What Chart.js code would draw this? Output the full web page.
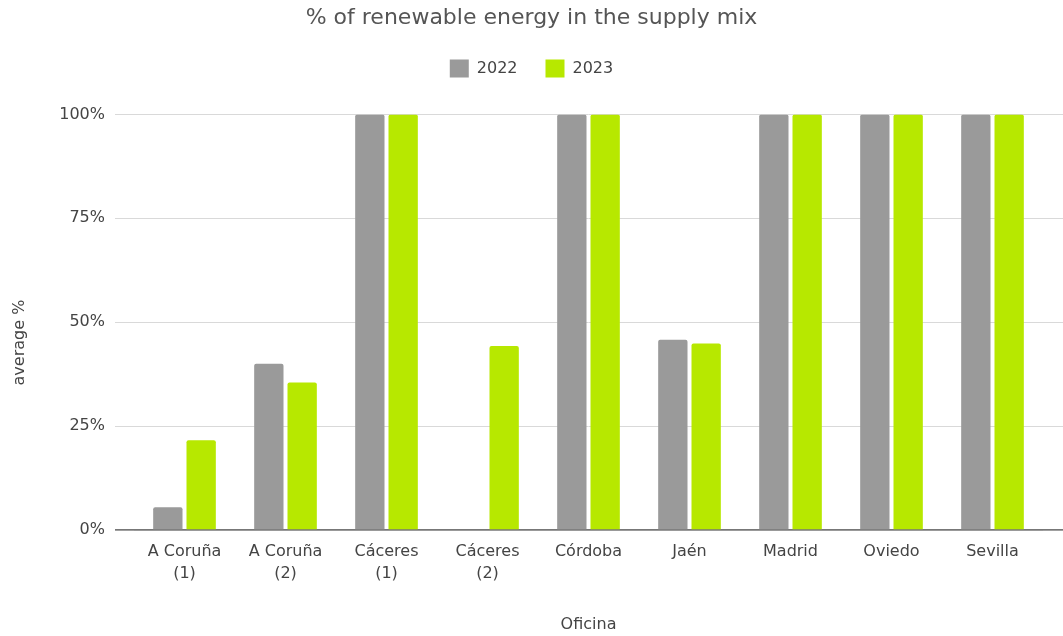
<!DOCTYPE html>
<html>
<head>
<meta charset="utf-8">
<script src="https://cdn.jsdelivr.net/npm/chart.js@4.4.1/dist/chart.umd.min.js"></script>
<style>
  html, body { margin: 0; padding: 0; background: #fff; }
  #wrap { width: 1063px; height: 636px; position: relative; }
</style>
</head>
<body>
<div id="wrap"><canvas id="grafikon"></canvas></div>
<script>
// data
var oficinas = ["A Coruña (1)", "A Coruña (2)", "Cáceres (1)", "Cáceres (2)",
                "Córdoba", "Jaén", "Madrid", "Oviedo", "Sevilla"];
var godine = ["2022", "2023"];
var vrijednosti2022 = [5.5, 40, 100, null, 100, 45.8, 100, 100, 100];
var vrijednosti2023 = [21.6, 35.5, 100, 44.3, 100, 44.9, 100, 100, 100];
var yTicks = [0, 25, 50, 75, 100];

var boje = ["#9a9a9a", "#b7e800"];

Chart.defaults.font.family = "'DejaVu Sans', sans-serif";
Chart.defaults.color = "#444";

function bojaMreze(ctx) {
    return ctx.tick && ctx.tick.value === 0 ? "#777" : "#d9d9d9";
}
function debljinaMreze(ctx) {
    return ctx.tick && ctx.tick.value === 0 ? 1.7 : 1;
}

// extra space under the legend
var razmakLegende = {
    id: "razmakLegende",
    beforeInit: function (chart) {
        var staraFit = chart.legend.fit;
        chart.legend.fit = function () {
            staraFit.bind(chart.legend)();
            this.height += 27;
        };
    }
};

new Chart("grafikon", {
    type: "bar",
    data: {
        labels: oficinas,
        datasets: [{
            label: godine[0],
            backgroundColor: boje[0],
            data: vrijednosti2022,
            borderRadius: 2,
            borderSkipped: "start"
        }, {
            label: godine[1],
            backgroundColor: boje[1],
            data: vrijednosti2023,
            borderRadius: 2,
            borderSkipped: "start"
        }]
    },
    plugins: [razmakLegende],
    options: {
        animation: false,
        responsive: true,
        maintainAspectRatio: false,
        barPercentage: 0.88,
        categoryPercentage: 0.66,
        layout: {padding: {left: 0, right: 0, top: 0, bottom: 0}},
        plugins: {
            title: {
                display: true,
                text: "% of renewable energy in the supply mix",
                color: "#555",
                font: {size: 22, weight: "normal"},
                padding: {top: 5, bottom: 0}
            },
            legend: {
                labels: {
                    boxWidth: 19,
                    boxHeight: 18,
                    padding: 28,
                    font: {size: 16}
                }
            },
            tooltip: {enabled: false}
        },
        scales: {
            x: {
                grid: {display: false, drawTicks: false},
                border: {display: false},
                ticks: {
                    padding: 11,
                    maxRotation: 0,
                    autoSkip: false,
                    font: {size: 16, lineHeight: 1.35},
                    callback: function (v, i) {
                        var t = oficinas[i];
                        var k = t.indexOf(" (");
                        return k > 0 ? [t.slice(0, k), t.slice(k + 1)] : t;
                    }
                },
                title: {
                    display: true,
                    text: "Oficina",
                    font: {size: 16},
                    padding: {top: 0, bottom: 2}
                },
                afterFit: function (s) { s.height = 106; }
            },
            y: {
                min: 0,
                max: 100,
                afterBuildTicks: function (s) {
                    s.ticks = yTicks.map(function (v) { return {value: v}; });
                },
                grid: {
                    color: bojaMreze,
                    lineWidth: debljinaMreze,
                    tickLength: 19
                },
                border: {display: false},
                ticks: {
                    padding: 10,
                    font: {size: 16},
                    callback: function (v) { return v + "%"; }
                },
                title: {
                    display: true,
                    // trailing spaces push the rotated title a bit lower, as in the picture
                    text: "average %\u00a0\u00a0\u00a0\u00a0\u00a0\u00a0\u00a0\u00a0",
                    font: {size: 16},
                    padding: {top: 10, bottom: 0}
                },
                afterFit: function (s) { s.width = 134; }
            },
            y2: {
                position: "right",
                min: 0,
                max: 100,
                afterBuildTicks: function (s) {
                    s.ticks = yTicks.map(function (v) { return {value: v}; });
                },
                grid: {
                    drawOnChartArea: false,
                    color: bojaMreze,
                    lineWidth: debljinaMreze,
                    tickLength: 20
                },
                border: {display: false},
                ticks: {display: false},
                afterFit: function (s) { s.width = 20; }
            }
        }
    }
});
</script>
</body>
</html>
